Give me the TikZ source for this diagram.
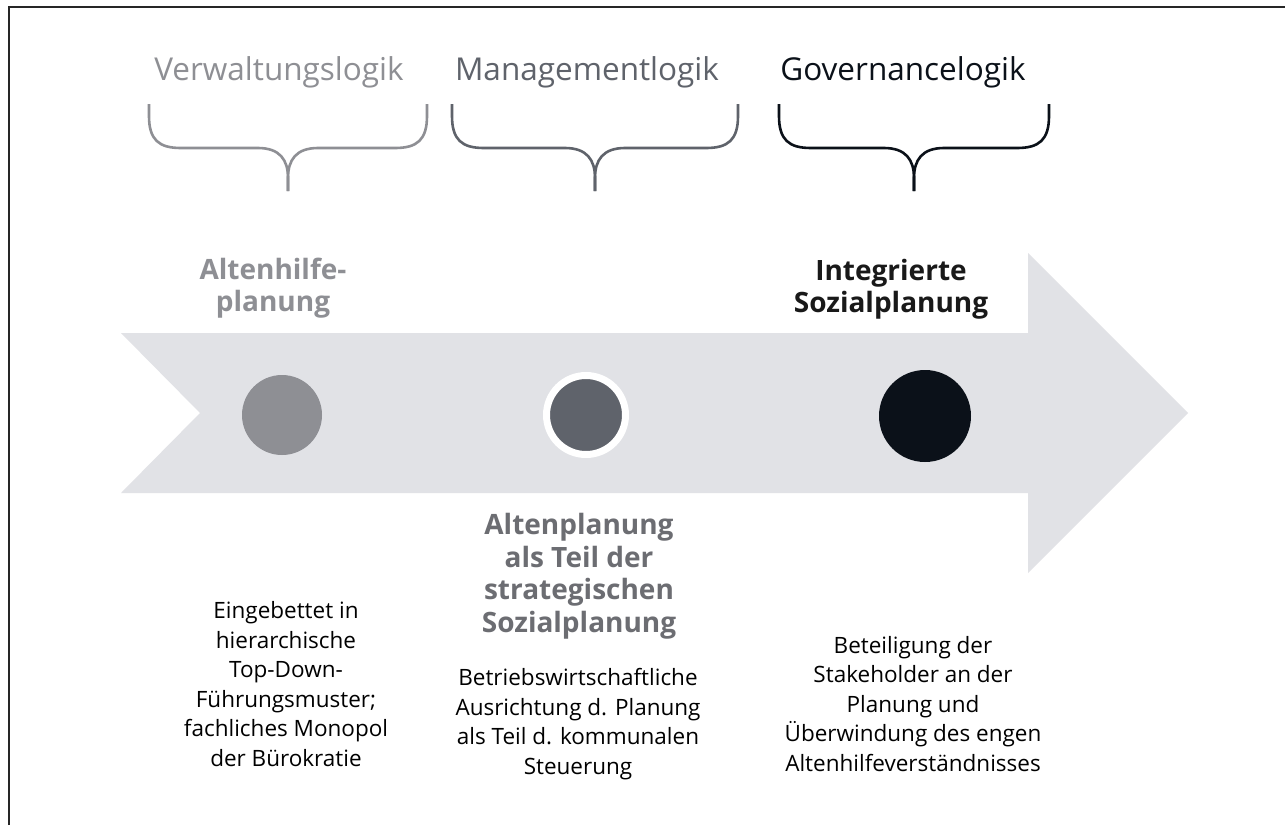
\documentclass[tikz,border=0pt]{standalone}
\usepackage{fontspec}
\setmainfont{Open Sans}
\usetikzlibrary{positioning}

\definecolor{verw}{HTML}{8E8F94}
\definecolor{mgmt}{HTML}{5F636B}
\definecolor{gov}{HTML}{0B1119}
\definecolor{band}{HTML}{E1E2E6}
\definecolor{midtext}{HTML}{6C6D72}

\begin{document}
\begin{tikzpicture}[x=1pt,y=-1pt]
\tikzstyle{logic}=[inner sep=0pt,font=\fontsize{31.5}{34}\selectfont]
\tikzstyle{brace}=[line width=2.6pt,line cap=butt]
\tikzstyle{stage}=[circle,inner sep=0pt]
\tikzstyle{plan}=[align=center,inner sep=0pt,font=\fontsize{28}{32.5}\selectfont\bfseries]
\tikzstyle{desc}=[align=center,inner sep=0pt,font=\fontsize{22.5}{29.5}\selectfont]

\useasboundingbox (0,0) rectangle (1285,825);
\fill[white] (0,0) rectangle (1285,825);

% Frame (only top and left edge visible)
\draw[line width=2pt,black!85] (9,825) -- (9,7) -- (1285,7);

% Draw the big arrow
\fill[band] (121,333) -- (1028,333) -- (1028,253) -- (1188,413) -- (1028,573)
  -- (1028,493) -- (121,493) -- (200,413) -- cycle;

% Write logic labels
\foreach \name / \x / \col / \txt in {1/279/verw/Verwaltungslogik,
    2/587/mgmt/Managementlogik, 3/903/gov/Governancelogik}
\node[logic,text=\col] (L-\name) at (\x,72) {\txt};

% Draw the braces
\foreach \name / \mx / \hw / \col in {1/288/139/verw, 2/595/143/mgmt, 3/914/135/gov}
{
\coordinate (B-\name) at (\mx,191);
\draw[brace,draw=\col] ({\mx-\hw},104) -- ({\mx-\hw},116)
  .. controls ({\mx-\hw},140) and ({\mx-\hw+10},148) .. ({\mx-\hw+32},148)
  -- ({\mx-30},148) .. controls ({\mx-8},148) and (\mx,160) .. (\mx,178) -- (B-\name);
\draw[brace,draw=\col] ({\mx+\hw},104) -- ({\mx+\hw},116)
  .. controls ({\mx+\hw},140) and ({\mx+\hw-10},148) .. ({\mx+\hw-32},148)
  -- ({\mx+30},148) .. controls ({\mx+8},148) and (\mx,160) .. (\mx,178) -- (B-\name);
}

% Draw the stage circles
\node[stage,fill=verw,minimum size=80pt] (S-1) at (282,415) {};
\node[stage,fill=mgmt,draw=white,line width=7pt,minimum size=79pt] (S-2) at (586,415) {};
\node[stage,fill=gov,minimum size=92pt] (S-3) at (925,416) {};

% Planning labels
\node[plan,text=verw] (P-1) at (273,288) {Altenhilfe-\\planung};
\node[plan,text=midtext] (P-2) at (579,576) {Altenplanung\\als Teil der\\strategischen\\Sozialplanung};
\node[plan,text=black!90] (P-3) at (891,289) {Integrierte\\Sozialplanung};

% Descriptions
\node[desc] (D-1) at (286,684) {Eingebettet in\\hierarchische\\Top-Down-\\Führungsmuster;\\fachliches Monopol\\der Bürokratie};
\node[desc] (D-2) at (578,724) {Betriebswirtschaftliche\\Ausrichtung d. Planung\\als Teil d. kommunalen\\Steuerung};
\node[desc] (D-3) at (913,704) {Beteiligung der\\Stakeholder an der\\Planung und\\Überwindung des engen\\Altenhilfeverständnisses};

\end{tikzpicture}
\end{document}
